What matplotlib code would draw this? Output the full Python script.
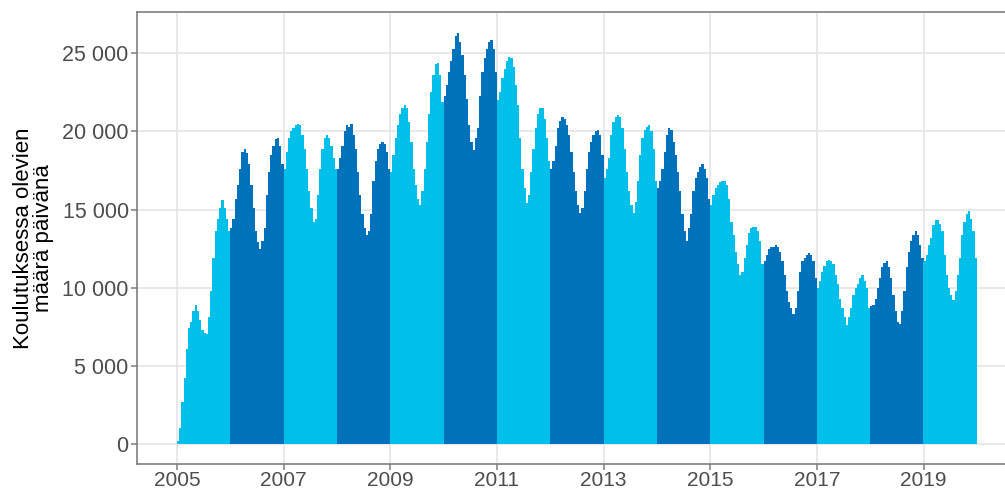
import numpy as np
import matplotlib.pyplot as plt
from matplotlib.ticker import FuncFormatter

plt.rcParams['font.family'] = ['Liberation Sans', 'DejaVu Sans']

# half-monthly values (thousands), 24 per year
years = list(range(2005, 2020))
vals = {
    2005: [0.2, 1.0, 2.7, 4.2, 6.1, 7.4, 7.8, 8.5, 8.9, 8.5, 7.9, 7.3, 7.1, 7.0, 8.1, 9.8, 11.9, 13.6, 14.4, 15.1, 15.6, 15.1, 14.4, 13.6],
    2006: [13.8, 14.4, 15.7, 16.6, 17.6, 18.7, 18.9, 18.6, 17.9, 16.6, 15.1, 13.6, 12.9, 12.5, 13.0, 13.8, 15.9, 17.4, 18.5, 19.1, 19.5, 19.6, 19.1, 17.9],
    2007: [17.6, 18.7, 19.6, 20.0, 20.2, 20.4, 20.5, 20.4, 19.8, 18.9, 17.6, 16.2, 15.1, 14.2, 14.4, 15.9, 17.6, 18.9, 19.6, 19.8, 19.6, 19.1, 18.3, 17.6],
    2008: [17.6, 18.3, 19.1, 20.0, 20.4, 20.3, 20.5, 19.8, 18.9, 17.4, 15.9, 14.7, 13.8, 13.4, 13.6, 14.7, 16.8, 18.1, 18.9, 19.2, 19.35, 19.2, 18.7, 17.6],
    2009: [17.4, 18.5, 19.6, 20.4, 21.1, 21.5, 21.7, 21.5, 20.6, 19.3, 17.6, 16.6, 15.7, 15.3, 16.2, 17.6, 19.3, 21.1, 22.5, 23.6, 24.3, 24.4, 23.6, 21.9],
    2010: [22.3, 23.0, 23.8, 24.5, 25.3, 26.1, 26.3, 25.7, 24.9, 23.6, 22.1, 20.4, 19.3, 18.8, 19.6, 20.2, 22.3, 23.8, 24.7, 25.3, 25.7, 25.85, 25.3, 23.8],
    2011: [22.0, 22.5, 23.4, 24.0, 24.5, 24.8, 24.7, 24.1, 23.0, 21.7, 19.6, 17.6, 16.4, 15.4, 15.9, 17.4, 18.9, 20.2, 21.1, 21.5, 21.5, 20.8, 19.6, 18.1],
    2012: [17.6, 18.1, 19.1, 20.2, 20.7, 20.9, 20.8, 20.4, 19.8, 18.7, 17.4, 16.2, 15.3, 14.8, 15.1, 16.2, 17.6, 18.7, 19.3, 19.8, 20.0, 20.1, 19.8, 18.5],
    2013: [17.0, 17.6, 18.3, 19.8, 20.6, 20.9, 21.05, 20.9, 20.2, 18.9, 17.4, 16.2, 15.3, 14.8, 15.5, 16.8, 18.5, 19.6, 20.1, 20.3, 20.4, 20.0, 18.9, 16.8],
    2014: [16.4, 16.8, 17.6, 18.7, 19.8, 20.2, 20.1, 19.3, 18.5, 17.4, 16.2, 14.7, 13.6, 13.0, 13.8, 14.7, 16.2, 17.0, 17.4, 17.75, 17.9, 17.6, 17.0, 15.7],
    2015: [15.3, 15.9, 16.4, 16.6, 16.75, 16.8, 16.8, 16.6, 15.7, 14.2, 13.4, 12.3, 11.5, 10.8, 11.0, 11.9, 12.7, 13.5, 13.8, 13.85, 13.9, 13.6, 13.0, 11.5],
    2016: [11.7, 12.1, 12.5, 12.6, 12.6, 12.7, 12.6, 12.3, 11.7, 10.8, 9.8, 9.1, 8.7, 8.3, 8.7, 9.8, 11.0, 11.7, 11.9, 12.1, 12.2, 12.1, 11.7, 10.6],
    2017: [10.0, 10.4, 11.0, 11.4, 11.7, 11.8, 11.7, 11.5, 10.8, 10.2, 9.3, 8.7, 8.1, 7.6, 8.1, 8.7, 9.5, 10.0, 10.2, 10.6, 10.8, 10.4, 10.0, 8.7],
    2018: [8.8, 8.9, 9.3, 10.0, 10.6, 11.3, 11.6, 11.7, 11.3, 10.6, 9.5, 8.5, 7.8, 7.7, 8.5, 9.8, 11.3, 12.3, 13.0, 13.4, 13.6, 13.4, 12.7, 11.9],
    2019: [11.7, 12.1, 12.7, 13.2, 14.0, 14.3, 14.3, 14.1, 13.6, 12.1, 10.8, 10.0, 9.5, 9.2, 9.8, 10.8, 11.9, 13.4, 14.2, 14.7, 14.9, 14.4, 13.6, 11.9],
}
light = '#00bfe8'
dark = '#0071bb'

fig = plt.figure(figsize=(10.05, 4.92), dpi=100)
ax = fig.add_axes([0.1363, 0.0568, 0.8755, 0.9188])

for y in years:
    v = np.array(vals[y]) * 1000
    x = y + (np.arange(24) + 0.5) / 24
    ax.bar(x, v, width=1/24 + 0.002, color=light if y % 2 else dark, linewidth=0, zorder=2)

ax.set_xlim(2004.25, 2020.75)
ax.set_ylim(-1300, 27650)
ax.set_xticks(range(2005, 2021, 2))
ax.set_yticks(range(0, 25001, 5000))
ax.yaxis.set_major_formatter(FuncFormatter(lambda v, p: f"{int(v):,}".replace(",", " ")))
ax.grid(True, color='#e3e3e3', linewidth=1.1, zorder=0)
ax.set_axisbelow(True)
for s in ax.spines.values():
    s.set_color('#7f7f7f')
    s.set_linewidth(1.2)
ax.tick_params(colors='#7f7f7f', length=4, width=1.1, labelcolor='#4d4d4d', labelsize=15.5)
ax.tick_params(axis='x', pad=1, labelsize=15)
ax.tick_params(axis='y', pad=2)
ax.set_ylabel('Koulutuksessa olevien\nmäärä päivänä', fontsize=16, labelpad=6, linespacing=0.9)

fig.savefig('out.png', dpi=100)
